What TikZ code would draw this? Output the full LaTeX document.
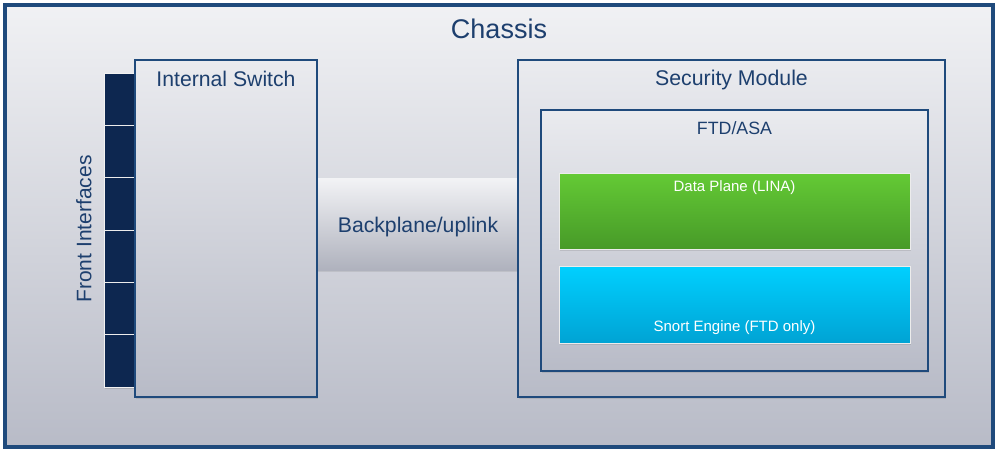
\documentclass[tikz,border=0pt]{standalone}
\usepackage{fontspec}
\setmainfont{Liberation Sans}
\usetikzlibrary{shadows}
\definecolor{bord}{HTML}{1F4A7C}
\definecolor{txt}{HTML}{1D3F6E}
\definecolor{navy}{HTML}{0D2750}
\definecolor{gtop}{HTML}{EAEBEF}
\definecolor{gbot}{HTML}{B8BBC7}
\definecolor{greentop}{HTML}{64CA35}
\definecolor{greenbot}{HTML}{479A28}
\definecolor{cyantop}{HTML}{00D0FF}
\definecolor{cyanbot}{HTML}{00A3D4}
\tikzset{
  panel/.style={rectangle, draw=bord, inner sep=0pt, outer sep=0pt, top color=gtop, bottom color=gbot,
    drop shadow={opacity=0.25, shadow xshift=1pt, shadow yshift=-1.5pt}},
  lbl/.style={text=txt, inner sep=0pt, anchor=center},
  engine/.style={rectangle, draw=white!85!gray, line width=0.8pt, inner sep=0pt, outer sep=0pt,
    drop shadow={opacity=0.25, shadow xshift=1pt, shadow yshift=-1.5pt}},
  wlbl/.style={text=white, inner sep=0pt, font=\fontsize{15}{17}\selectfont}
}
\begin{document}
\begin{tikzpicture}[x=1pt,y=-1pt]
\useasboundingbox (0,0) rectangle (998,451);
\fill[white] (0,0) rectangle (998,451);
% chassis
\node[panel, line width=3.5pt, minimum width=988pt, minimum height=442pt, top color=gtop!70!white] (chassis) at (499,226) {};
\node[lbl, font=\fontsize{27}{30}\selectfont] (chassislbl) at (499,29) {Chassis};
% backplane band
\node[rectangle, inner sep=0pt, outer sep=0pt, minimum width=204pt, minimum height=92pt,
  top color=gtop!60!white, bottom color=gbot!95!black, drop shadow={opacity=0.2, shadow xshift=0pt, shadow yshift=-1.5pt}] (backplane) at (418,224) {};
\node[lbl, font=\fontsize{21.2}{24}\selectfont] (bplbl) at (418,227) {Backplane/uplink};
% front interface strip
\node[rectangle, fill=navy, draw=white!90!gray, line width=0.8pt, inner sep=0pt, outer sep=0pt,
  minimum width=32pt, minimum height=314pt, drop shadow={opacity=0.3, shadow xshift=1pt, shadow yshift=-1.5pt}] (strip) at (120,230) {};
\foreach \yy in {125.3,177.7,230,282.3,334.7}
  \draw[white!85!gray, line width=0.8pt] (strip.west |- 0,\yy) -- (strip.east |- 0,\yy);
\node[lbl, rotate=90, font=\fontsize{21}{24}\selectfont] (frontlbl) at (84,229) {Front Interfaces};
% internal switch
\node[panel, line width=2.7pt, minimum width=182pt, minimum height=337pt] (switch) at (226,228.5) {};
\node[lbl, font=\fontsize{21.2}{24}\selectfont] (swlbl) at (226,79) {Internal Switch};
% security module
\node[panel, line width=2.7pt, minimum width=427pt, minimum height=337pt] (secmod) at (731.5,228.5) {};
\node[lbl, font=\fontsize{21.3}{24}\selectfont] (seclbl) at (731.5,80) {Security Module};
% FTD/ASA
\node[panel, line width=2.2pt, minimum width=387pt, minimum height=261pt] (ftd) at (734.5,240.5) {};
\node[lbl, font=\fontsize{17.8}{20}\selectfont] (ftdlbl) at (734.5,128) {FTD/ASA};
% data plane
\node[engine, top color=greentop, bottom color=greenbot, minimum width=351pt, minimum height=76pt] (data) at (734.5,211) {};
\node[wlbl] (datalbl) at (734.5,188) {Data Plane (LINA)};
% snort
\node[engine, top color=cyantop, bottom color=cyanbot, minimum width=351pt, minimum height=77pt] (snort) at (734.5,304.5) {};
\node[wlbl] (snortlbl) at (734.5,328) {Snort Engine (FTD only)};
\end{tikzpicture}
\end{document}
